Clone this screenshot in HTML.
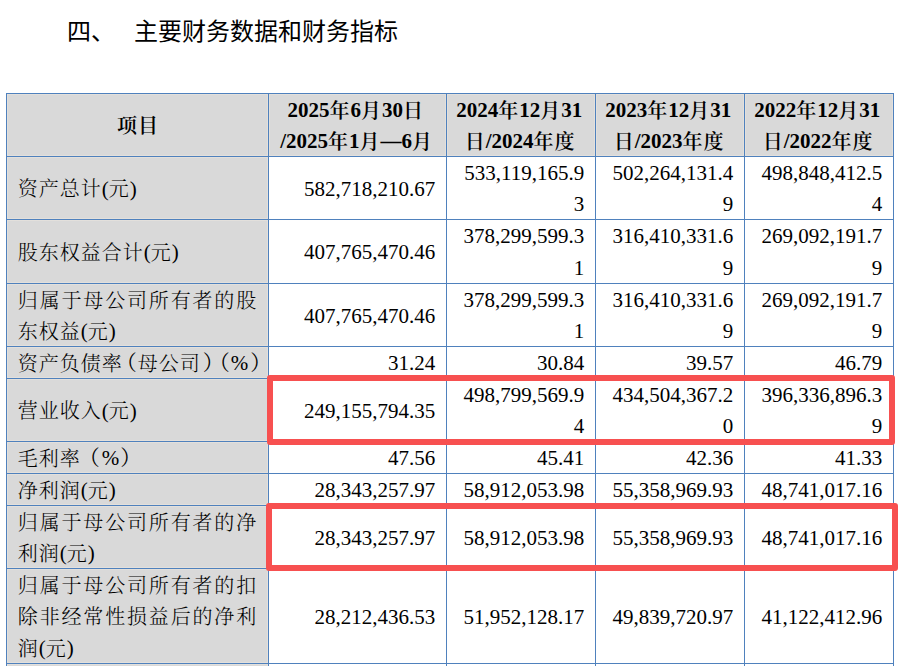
<!DOCTYPE html>
<html lang="zh-CN"><head><meta charset="utf-8"><title>主要财务数据和财务指标</title>
<style>
html,body{margin:0;padding:0;background:#fff;}
body{width:903px;height:666px;position:relative;overflow:hidden;}
.g{position:absolute;box-sizing:border-box;background:#d9d9d9;border:1px solid #e3e0dc;}
.h{position:absolute;left:6px;width:888px;height:1px;background:#4f81bd;}
.v{position:absolute;top:93px;width:1px;height:573px;background:#4f81bd;}
.t{position:absolute;height:31.5px;line-height:31.5px;white-space:nowrap;font-size:21px;color:#000;
  font-family:"Liberation Serif","Noto Serif CJK SC",serif;}
.b{font-weight:bold;}
.b .c{font-weight:600;}
.c{font-family:"Noto Serif CJK SC",serif;font-size:20px;letter-spacing:1px;line-height:0;position:relative;top:0.8px;font-weight:300;}
.pl,.pr{display:inline-block;width:15px;font-family:"Noto Serif CJK SC",serif;line-height:21px;}
.pl span{margin-left:-7px;}
.pr span{margin-left:2px;}
.plf,.prf{display:inline-block;width:21px;font-family:"Noto Serif CJK SC",serif;line-height:21px;}
.plf span{margin-left:-2px;}
.prf span{margin-left:1px;}
.rb{position:absolute;border:6px solid #f75050;border-radius:3px;}
.title{position:absolute;top:13.5px;font-size:24px;line-height:36px;white-space:nowrap;color:#000;font-weight:400;
  font-family:"Liberation Sans","Noto Sans CJK SC",sans-serif;}
</style></head><body>
<div class="title" style="left:67px">四、</div>
<div class="title" style="left:134px">主要财务数据和财务指标</div>
<div class="g" style="left:7px;top:94px;width:261px;height:62px"></div>
<div class="g" style="left:269px;top:94px;width:177px;height:62px"></div>
<div class="g" style="left:447px;top:94px;width:148px;height:62px"></div>
<div class="g" style="left:596px;top:94px;width:148px;height:62px"></div>
<div class="g" style="left:745px;top:94px;width:148px;height:62px"></div>
<div class="g" style="left:7px;top:157px;width:261px;height:62px"></div>
<div class="g" style="left:7px;top:220px;width:261px;height:63px"></div>
<div class="g" style="left:7px;top:284px;width:261px;height:62px"></div>
<div class="g" style="left:7px;top:347px;width:261px;height:31px"></div>
<div class="g" style="left:7px;top:379px;width:261px;height:62px"></div>
<div class="g" style="left:7px;top:442px;width:261px;height:31px"></div>
<div class="g" style="left:7px;top:474px;width:261px;height:31px"></div>
<div class="g" style="left:7px;top:506px;width:261px;height:62px"></div>
<div class="g" style="left:7px;top:569px;width:261px;height:94px"></div>
<div class="g" style="left:7px;top:664px;width:261px;height:39px"></div>
<div class="h" style="top:93px"></div>
<div class="h" style="top:156px"></div>
<div class="h" style="top:219px"></div>
<div class="h" style="top:283px"></div>
<div class="h" style="top:346px"></div>
<div class="h" style="top:378px"></div>
<div class="h" style="top:441px"></div>
<div class="h" style="top:473px"></div>
<div class="h" style="top:505px"></div>
<div class="h" style="top:568px"></div>
<div class="h" style="top:663px"></div>
<div class="v" style="left:6px"></div>
<div class="v" style="left:268px"></div>
<div class="v" style="left:446px"></div>
<div class="v" style="left:595px"></div>
<div class="v" style="left:744px"></div>
<div class="v" style="left:893px"></div>
<div class="t b" style="left:18.30px;top:110.65px;width:239.40px;text-align:center"><span class="c">项目</span></div>
<div class="t b" style="left:278.10px;top:94.90px;width:155.40px;text-align:center">2025<span class="c">年</span>6<span class="c">月</span>30<span class="c">日</span></div>
<div class="t b" style="left:279.00px;top:126.40px;width:155.40px;text-align:center">/2025<span class="c">年</span>1<span class="c">月</span>—6<span class="c">月</span></div>
<div class="t b" style="left:456.10px;top:94.90px;width:126.40px;text-align:center">2024<span class="c">年</span>12<span class="c">月</span>31</div>
<div class="t b" style="left:457.00px;top:126.40px;width:126.40px;text-align:center"><span class="c">日</span>/2024<span class="c">年度</span></div>
<div class="t b" style="left:605.10px;top:94.90px;width:126.40px;text-align:center">2023<span class="c">年</span>12<span class="c">月</span>31</div>
<div class="t b" style="left:606.00px;top:126.40px;width:126.40px;text-align:center"><span class="c">日</span>/2023<span class="c">年度</span></div>
<div class="t b" style="left:754.10px;top:94.90px;width:126.40px;text-align:center">2022<span class="c">年</span>12<span class="c">月</span>31</div>
<div class="t b" style="left:755.00px;top:126.40px;width:126.40px;text-align:center"><span class="c">日</span>/2022<span class="c">年度</span></div>
<div class="t" style="left:17.80px;top:173.65px;width:239.40px;text-align:left"><span class="c">资产总计</span>(<span class="c">元</span>)</div>
<div class="t" style="left:279.80px;top:173.65px;width:155.40px;text-align:right">582,718,210.67</div>
<div class="t" style="left:457.80px;top:157.90px;width:126.40px;text-align:right">533,119,165.9</div>
<div class="t" style="left:457.80px;top:189.40px;width:126.40px;text-align:right">3</div>
<div class="t" style="left:606.80px;top:157.90px;width:126.40px;text-align:right">502,264,131.4</div>
<div class="t" style="left:606.80px;top:189.40px;width:126.40px;text-align:right">9</div>
<div class="t" style="left:755.80px;top:157.90px;width:126.40px;text-align:right">498,848,412.5</div>
<div class="t" style="left:755.80px;top:189.40px;width:126.40px;text-align:right">4</div>
<div class="t" style="left:17.80px;top:237.15px;width:239.40px;text-align:left"><span class="c">股东权益合计</span>(<span class="c">元</span>)</div>
<div class="t" style="left:279.80px;top:237.15px;width:155.40px;text-align:right">407,765,470.46</div>
<div class="t" style="left:457.80px;top:221.40px;width:126.40px;text-align:right">378,299,599.3</div>
<div class="t" style="left:457.80px;top:252.90px;width:126.40px;text-align:right">1</div>
<div class="t" style="left:606.80px;top:221.40px;width:126.40px;text-align:right">316,410,331.6</div>
<div class="t" style="left:606.80px;top:252.90px;width:126.40px;text-align:right">9</div>
<div class="t" style="left:755.80px;top:221.40px;width:126.40px;text-align:right">269,092,191.7</div>
<div class="t" style="left:755.80px;top:252.90px;width:126.40px;text-align:right">9</div>
<div class="t" style="left:17.80px;top:284.90px;width:239.40px;text-align:left"><span class="c" style="letter-spacing:1.840px">归属于母公司所有者的股</span></div>
<div class="t" style="left:17.80px;top:316.40px;width:239.40px;text-align:left"><span class="c">东权益</span>(<span class="c">元</span>)</div>
<div class="t" style="left:279.80px;top:300.65px;width:155.40px;text-align:right">407,765,470.46</div>
<div class="t" style="left:457.80px;top:284.90px;width:126.40px;text-align:right">378,299,599.3</div>
<div class="t" style="left:457.80px;top:316.40px;width:126.40px;text-align:right">1</div>
<div class="t" style="left:606.80px;top:284.90px;width:126.40px;text-align:right">316,410,331.6</div>
<div class="t" style="left:606.80px;top:316.40px;width:126.40px;text-align:right">9</div>
<div class="t" style="left:755.80px;top:284.90px;width:126.40px;text-align:right">269,092,191.7</div>
<div class="t" style="left:755.80px;top:316.40px;width:126.40px;text-align:right">9</div>
<div class="t" style="left:17.80px;top:348.15px;width:239.40px;text-align:left"><span class="c">资产负债率</span><span class="pl"><span>（</span></span><span class="c">母公司</span><span class="pr"><span>）</span></span><span class="pl"><span>（</span></span>%<span class="pr"><span>）</span></span></div>
<div class="t" style="left:279.80px;top:348.15px;width:155.40px;text-align:right">31.24</div>
<div class="t" style="left:457.80px;top:348.15px;width:126.40px;text-align:right">30.84</div>
<div class="t" style="left:606.80px;top:348.15px;width:126.40px;text-align:right">39.57</div>
<div class="t" style="left:755.80px;top:348.15px;width:126.40px;text-align:right">46.79</div>
<div class="t" style="left:17.80px;top:395.65px;width:239.40px;text-align:left"><span class="c">营业收入</span>(<span class="c">元</span>)</div>
<div class="t" style="left:279.80px;top:395.65px;width:155.40px;text-align:right">249,155,794.35</div>
<div class="t" style="left:457.80px;top:379.90px;width:126.40px;text-align:right">498,799,569.9</div>
<div class="t" style="left:457.80px;top:411.40px;width:126.40px;text-align:right">4</div>
<div class="t" style="left:606.80px;top:379.90px;width:126.40px;text-align:right">434,504,367.2</div>
<div class="t" style="left:606.80px;top:411.40px;width:126.40px;text-align:right">0</div>
<div class="t" style="left:755.80px;top:379.90px;width:126.40px;text-align:right">396,336,896.3</div>
<div class="t" style="left:755.80px;top:411.40px;width:126.40px;text-align:right">9</div>
<div class="t" style="left:17.80px;top:443.15px;width:239.40px;text-align:left"><span class="c">毛利率</span><span class="plf"><span>（</span></span>%<span class="prf"><span>）</span></span></div>
<div class="t" style="left:279.80px;top:443.15px;width:155.40px;text-align:right">47.56</div>
<div class="t" style="left:457.80px;top:443.15px;width:126.40px;text-align:right">45.41</div>
<div class="t" style="left:606.80px;top:443.15px;width:126.40px;text-align:right">42.36</div>
<div class="t" style="left:755.80px;top:443.15px;width:126.40px;text-align:right">41.33</div>
<div class="t" style="left:17.80px;top:475.15px;width:239.40px;text-align:left"><span class="c">净利润</span>(<span class="c">元</span>)</div>
<div class="t" style="left:279.80px;top:475.15px;width:155.40px;text-align:right">28,343,257.97</div>
<div class="t" style="left:457.80px;top:475.15px;width:126.40px;text-align:right">58,912,053.98</div>
<div class="t" style="left:606.80px;top:475.15px;width:126.40px;text-align:right">55,358,969.93</div>
<div class="t" style="left:755.80px;top:475.15px;width:126.40px;text-align:right">48,741,017.16</div>
<div class="t" style="left:17.80px;top:506.90px;width:239.40px;text-align:left"><span class="c" style="letter-spacing:1.840px">归属于母公司所有者的净</span></div>
<div class="t" style="left:17.80px;top:538.40px;width:239.40px;text-align:left"><span class="c">利润</span>(<span class="c">元</span>)</div>
<div class="t" style="left:279.80px;top:522.65px;width:155.40px;text-align:right">28,343,257.97</div>
<div class="t" style="left:457.80px;top:522.65px;width:126.40px;text-align:right">58,912,053.98</div>
<div class="t" style="left:606.80px;top:522.65px;width:126.40px;text-align:right">55,358,969.93</div>
<div class="t" style="left:755.80px;top:522.65px;width:126.40px;text-align:right">48,741,017.16</div>
<div class="t" style="left:17.80px;top:570.15px;width:239.40px;text-align:left"><span class="c" style="letter-spacing:1.840px">归属于母公司所有者的扣</span></div>
<div class="t" style="left:17.80px;top:601.65px;width:239.40px;text-align:left"><span class="c" style="letter-spacing:1.840px">除非经常性损益后的净利</span></div>
<div class="t" style="left:17.80px;top:633.15px;width:239.40px;text-align:left"><span class="c">润</span>(<span class="c">元</span>)</div>
<div class="t" style="left:279.80px;top:601.65px;width:155.40px;text-align:right">28,212,436.53</div>
<div class="t" style="left:457.80px;top:601.65px;width:126.40px;text-align:right">51,952,128.17</div>
<div class="t" style="left:606.80px;top:601.65px;width:126.40px;text-align:right">49,839,720.97</div>
<div class="t" style="left:755.80px;top:601.65px;width:126.40px;text-align:right">41,122,412.96</div>
<div class="rb" style="left:267px;top:375px;width:616px;height:57.5px"></div>
<div class="rb" style="left:266px;top:503px;width:620px;height:56px"></div>
</body></html>
